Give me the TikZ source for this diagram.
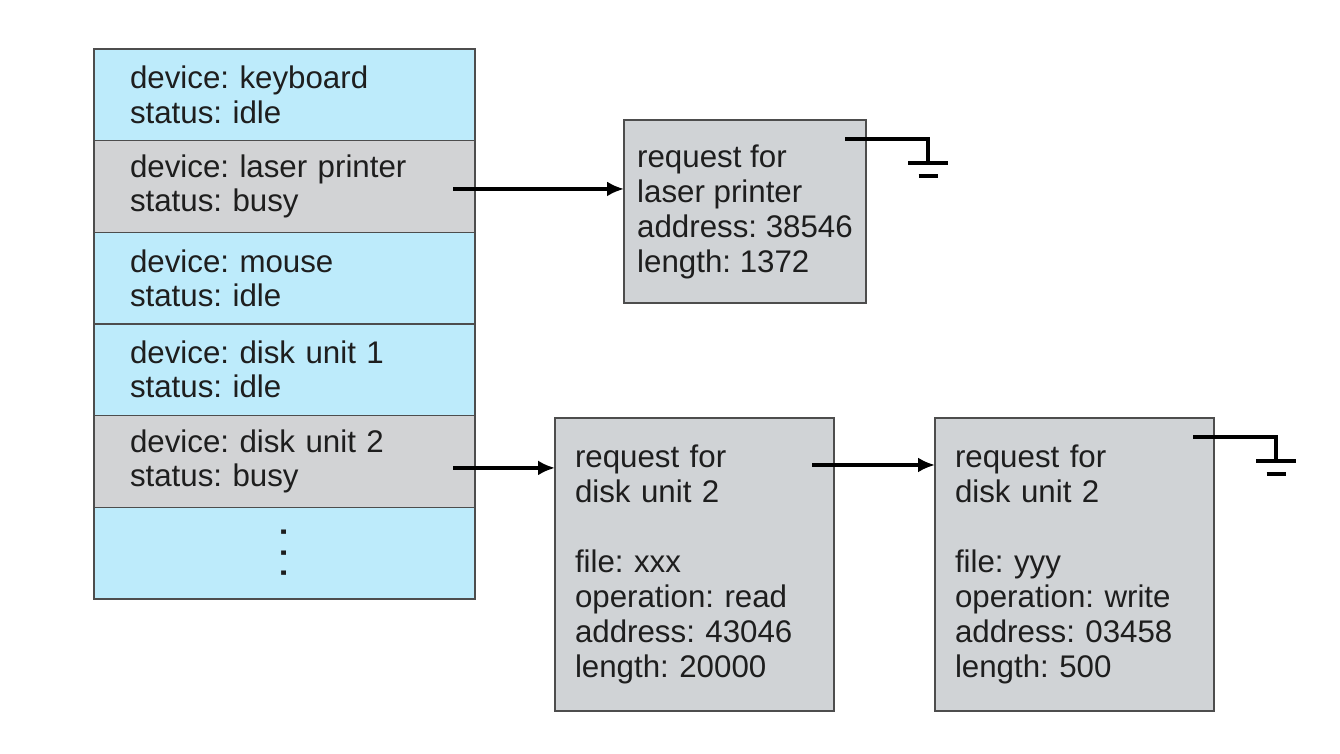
\documentclass[tikz,border=0pt]{standalone}
\usepackage{fontspec}
\usepackage{graphicx}
\setmainfont{Liberation Sans}
\usetikzlibrary{arrows.meta,positioning}
\frenchspacing
\definecolor{idleblue}{HTML}{BDEBFB}
\definecolor{busygray}{HTML}{D2D3D5}
\definecolor{reqgray}{HTML}{D0D3D6}
\definecolor{edge}{HTML}{4D4D4D}
\definecolor{ink}{HTML}{1E1E1E}
\newcommand{\moredots}{\rotatebox{90}{\fontsize{26pt}{26pt}\selectfont.\kern1.55mm.\kern1.55mm.}}
\tikzset{%
  row/.style={draw=edge,line width=0.8pt,outer sep=0pt,align=left,text width=61.8mm,inner xsep=7.2mm,inner ysep=0pt,minimum height=18.33mm,font=\fontsize{17.8pt}{19.4pt}\selectfont},
  idle/.style={row,fill=idleblue},
  busy/.style={row,fill=busygray},
  req/.style={draw=edge,line width=0.8pt,fill=reqgray,outer sep=0pt,align=left,inner ysep=0pt,font=\fontsize{17.8pt}{19.9pt}\selectfont},
  arrow/.style={-{Latex[length=3.4mm,width=3mm]}, line width=1.9pt},
  wire/.style={line width=1.9pt}%
}

\begin{document}
\begin{tikzpicture}[
    text=ink,
    queue/.style={
        req,
        minimum height=58.6mm,
        text width=47.8mm,
        inner xsep=4mm
    }
]
\useasboundingbox (0,0) rectangle (26.8,15.08);

% device-status table
\node[idle, anchor=north west] (keyboard) at (1.88,14.10)
{device: keyboard\\status: idle};
\node[busy, below=0pt of keyboard] (printer)
{device: laser printer\\status: busy};
\node[idle, below=0pt of printer] (mouse)
{device: mouse\\status: idle};
\node[idle, below=0pt of mouse] (disk1)
{device: disk unit 1\\status: idle};
\node[busy, below=0pt of disk1] (disk2)
{device: disk unit 2\\status: busy};
\node[idle, below=0pt of disk2, align=center] (more)
{\moredots};

% request queues
\node[req, anchor=north west, minimum width=48.4mm, minimum height=36.6mm, inner xsep=2.6mm] (lpreq) at (12.48,12.68)
{request for\\laser printer\\address: 38546\\length: 1372};

\node[queue, anchor=north west] (dreq1) at (11.10,6.72)
{request for\\disk unit 2\\[7mm]file: xxx\\operation: read\\address: 43046\\length: 20000};
\node[queue, right=20.2mm of dreq1] (dreq2)
{request for\\disk unit 2\\[7mm]file: yyy\\operation: write\\address: 03458\\length: 500};

\draw[arrow] ([xshift=-4.4mm,yshift=-0.5mm]printer.east) coordinate (p0) -- (p0 -| lpreq.west);
\draw[arrow] ([xshift=-4.4mm,yshift=-1.3mm]disk2.east) coordinate (d0) -- (d0 -| dreq1.west);
\draw[arrow] ([xshift=-4.4mm,yshift=-9.4mm]dreq1.north east) coordinate (q0) -- (q0 -| dreq2.west);

% end of each queue
\foreach \b in {lpreq,dreq2}{
  \draw[wire] ([xshift=-4.2mm,yshift=-3.8mm]\b.north east) -| ++(16.6mm,-4.8mm) coordinate (\b-gnd);
  \draw[wire] ([xshift=-4mm]\b-gnd) -- ([xshift=4mm]\b-gnd);
  \draw[wire] ([xshift=-1.9mm,yshift=-2.6mm]\b-gnd) -- ([xshift=1.9mm,yshift=-2.6mm]\b-gnd);
}

\end{tikzpicture}
\end{document}
